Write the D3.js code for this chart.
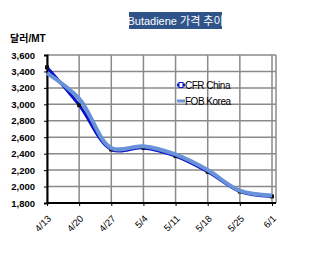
<!DOCTYPE html>
<html>
<head>
<meta charset="utf-8">
<script src="https://d3js.org/d3.v7.min.js"></script>
<style>
  body { margin: 0; background: #fff; }
  text { font-family: Arial, "Liberation Sans", "Noto Sans CJK KR", sans-serif; }
</style>
</head>
<body>
<svg id="vis" width="315" height="254"></svg>
<script>
var dates = ["4/13", "4/20", "4/27", "5/4", "5/11", "5/18", "5/25", "6/1"];
var cfrChina = [3450, 2990, 2450, 2470, 2370, 2180, 1940, 1880];
var fobKorea = [3380, 3070, 2470, 2490, 2390, 2200, 1950, 1890];
var yTicks = [1800, 2000, 2200, 2400, 2600, 2800, 3000, 3200, 3400, 3600];

var svg = d3.select("#vis");

var plotLeft = 47, plotRight = 276, plotTop = 55, plotBottom = 203;

var x = d3.scalePoint().domain(dates).range([plotLeft, 272]);
var y = d3.scaleLinear().domain([1800, 3600]).range([plotBottom, plotTop]);

// title box
svg.append("rect")
    .attr("x", 129).attr("y", 12)
    .attr("width", 93).attr("height", 17)
    .attr("fill", "#30548a");
svg.append("text")
    .attr("x", 175.5).attr("y", 24.5)
    .attr("text-anchor", "middle")
    .attr("fill", "#fff")
    .style("font-size", "11px")
    .text("Butadiene 가격 추이");

svg.append("text")
    .attr("x", 10).attr("y", 42)
    .style("font-size", "10px")
    .style("font-weight", "bold")
    .text("달러/MT");

// grid
var grid = svg.append("g");
grid.selectAll("line.h")
    .data(yTicks)
  .enter().append("line")
    .attr("class", "h")
    .attr("x1", plotLeft).attr("x2", plotRight)
    .attr("y1", function(d) { return y(d); })
    .attr("y2", function(d) { return y(d); })
    .attr("stroke", "#8a8a8a")
    .attr("stroke-width", 1.5);
grid.selectAll("line.v")
    .data(dates)
  .enter().append("line")
    .attr("class", "v")
    .attr("x1", function(d) { return x(d); })
    .attr("x2", function(d) { return x(d); })
    .attr("y1", plotTop).attr("y2", plotBottom)
    .attr("stroke", "#8a8a8a")
    .attr("stroke-width", 1.5);
grid.append("line")
    .attr("x1", plotRight).attr("x2", plotRight)
    .attr("y1", plotTop).attr("y2", plotBottom)
    .attr("stroke", "#8a8a8a")
    .attr("stroke-width", 1.5);

// y axis
var yAxis = svg.append("g")
    .attr("transform", "translate(" + plotLeft + ",0)")
    .call(d3.axisLeft(y).tickValues(yTicks).tickSize(3).tickFormat(d3.format(",")));
yAxis.select(".domain").attr("stroke", "#000").attr("stroke-width", 2);
yAxis.selectAll(".tick line").attr("stroke", "#000");
yAxis.selectAll(".tick text")
    .attr("x", -12)
    .style("font-size", "9.5px")
    .style("font-weight", "bold")
    .style("font-family", "Arial, 'Liberation Sans', sans-serif");

// x axis
var xAxis = svg.append("g")
    .attr("transform", "translate(0," + plotBottom + ")")
    .call(d3.axisBottom(x).tickSize(3).tickSizeOuter(0));
xAxis.select(".domain").attr("stroke", "#000").attr("stroke-width", 2)
    .attr("d", "M" + plotLeft + ",0H" + plotRight);
xAxis.selectAll(".tick line").attr("stroke", "#000");
xAxis.selectAll(".tick text")
    .attr("text-anchor", "end")
    .attr("transform", "translate(2,14) rotate(-45)")
    .attr("y", 0).attr("dy", "0.35em").attr("x", 0)
    .style("font-size", "9.5px")
    .style("font-family", "Arial, 'Liberation Sans', sans-serif");

var line = d3.line()
    .x(function(d, i) { return x(dates[i]); })
    .y(function(d) { return y(d); })
    .curve(d3.curveCatmullRom.alpha(0.5));

svg.append("path")
    .datum(cfrChina)
    .attr("d", line)
    .attr("fill", "none")
    .attr("stroke", "#0a14c8")
    .attr("stroke-width", 3);

svg.selectAll("rect.cfr")
    .data(cfrChina)
  .enter().append("rect")
    .attr("class", "cfr")
    .attr("x", function(d, i) { return x(dates[i]) - 2; })
    .attr("y", function(d) { return y(d) - 2; })
    .attr("width", 4).attr("height", 4)
    .attr("fill", "#111");

svg.append("path")
    .datum(fobKorea)
    .attr("d", line)
    .attr("fill", "none")
    .attr("stroke", "#6a92d8")
    .attr("stroke-width", 4);

// legend
var legend = svg.append("g");
legend.append("line")
    .attr("x1", 177).attr("x2", 185).attr("y1", 85).attr("y2", 85)
    .attr("stroke", "#0a14c8").attr("stroke-width", 3);
legend.append("rect")
    .attr("x", 179).attr("y", 82.5).attr("width", 4).attr("height", 5)
    .attr("fill", "#fff").attr("stroke", "#0a14c8").attr("stroke-width", 1);
legend.append("text")
    .attr("x", 185).attr("y", 88.5)
    .style("font-size", "10px")
    .style("letter-spacing", "-0.5px")
    .text("CFR China");
legend.append("line")
    .attr("x1", 177).attr("x2", 185).attr("y1", 101).attr("y2", 101)
    .attr("stroke", "#6a92d8").attr("stroke-width", 3);
legend.append("text")
    .attr("x", 185).attr("y", 104.5)
    .style("font-size", "10px")
    .style("letter-spacing", "-0.5px")
    .text("FOB Korea");
</script>
</body>
</html>
